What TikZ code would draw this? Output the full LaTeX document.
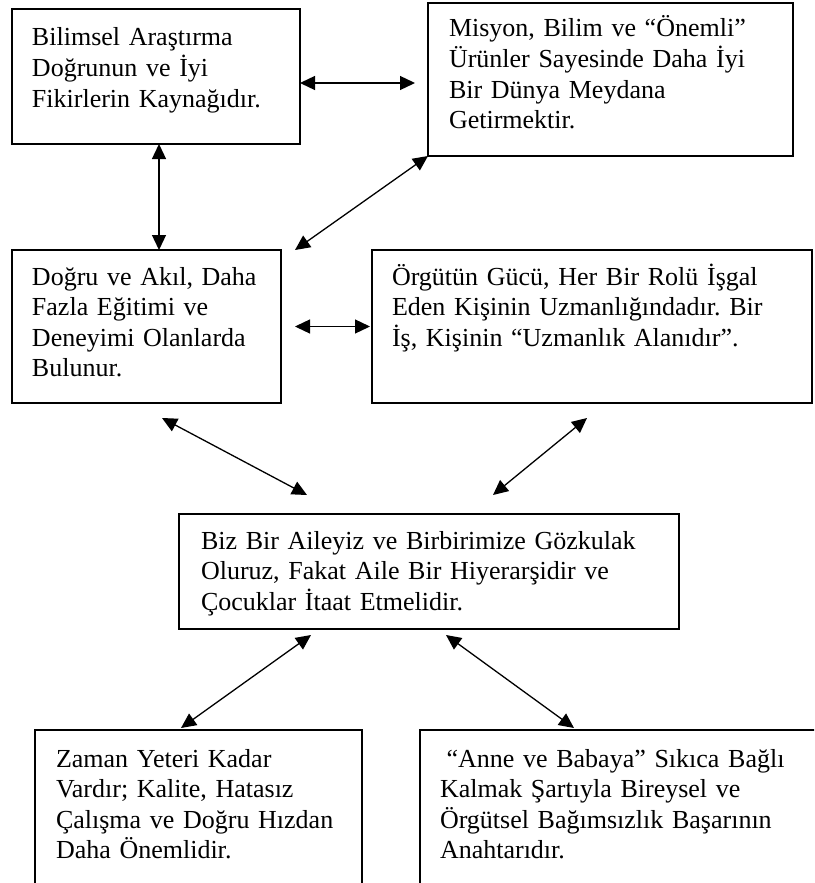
\documentclass[tikz,border=0pt]{standalone}
\usepackage{fontspec}
\setmainfont{Liberation Serif}
\usetikzlibrary{arrows.meta}

\begin{document}
\begin{tikzpicture}[
  x=0.5pt, y=-0.5pt,
  >={Triangle[length=7.5pt, width=7pt]},
  kutu/.style={
        draw,
        line width=0.85pt,
        anchor=north west,
        outer sep=0pt,
        inner ysep=0pt,
        inner xsep=10pt,
        align=left,
        font=\fontsize{13}{15.3}\selectfont\frenchspacing
  },
  ok/.style={
        line width=0.65pt,
        <->
  }
]

    \clip (0,0) rectangle (814,883);

    \node[kutu, text width=124pt, text height=18.5pt, text depth=49pt] (bilim) at (12,9)
        {Bilimsel Araştırma\\Doğrunun ve İyi\\Fikirlerin Kaynağıdır.};
    \node[kutu, inner xsep=10.5pt, text width=161.5pt, text height=17pt, text depth=59.5pt] (misyon) at (428,3)
        {Misyon, Bilim ve “Önemli”\\Ürünler Sayesinde Daha İyi\\Bir Dünya Meydana\\Getirmektir.};
    \node[kutu, text width=114.5pt, text height=17.5pt, text depth=59pt] (dogru) at (12,250)
        {Doğru ve Akıl, Daha\\Fazla Eğitimi ve\\Deneyimi Olanlarda\\Bulunur.};
    \node[kutu, text width=200pt, text height=17.5pt, text depth=59pt] (orgut) at (372,250)
        {Örgütün Gücü, Her Bir Rolü İşgal\\Eden Kişinin Uzmanlığındadır. Bir\\İş, Kişinin “Uzmanlık Alanıdır”.};
    \node[kutu, inner xsep=11pt, text width=228pt, text height=17.5pt, text depth=40pt] (aile) at (179,514)
        {Biz Bir Aileyiz ve Birbirimize Gözkulak\\Oluruz, Fakat Aile Bir Hiyerarşidir ve\\Çocuklar İtaat Etmelidir.};
    \node[kutu, inner xsep=10.5pt, text width=142.5pt, text height=18.5pt, text depth=66.5pt] (zaman) at (35,730)
        {Zaman Yeteri Kadar\\Vardır; Kalite, Hatasız\\Çalışma ve Doğru Hızdan\\Daha Önemlidir.};
    \node[kutu, text width=185pt, text height=18.5pt, text depth=66.5pt] (anne) at (420,730)
        {\hspace*{3.3pt}“Anne ve Babaya” Sıkıca Bağlı\\Kalmak Şartıyla Bireysel ve\\Örgütsel Bağımsızlık Başarının\\Anahtarıdır.};

    \coordinate (m1) at (415,83);
    \coordinate (d1) at (162,418);
    \coordinate (a1) at (307,495);
    \coordinate (o1) at (587,418);
    \coordinate (a2) at (493,495);
    \coordinate (a3) at (311,635);
    \coordinate (z1) at (181,728);
    \coordinate (a4) at (446,635);
    \coordinate (n1) at (574,728);

    \draw[ok] (bilim.east |- m1) -- (m1);
    \draw[ok] ([xshift=1.5pt]bilim.south) -- ([xshift=1.5pt]bilim.south |- dogru.north);
    \draw[ok] (misyon.south west) -- ([xshift=7pt]dogru.north east);
    \draw[ok] ([xshift=7pt]dogru.east) -- ([xshift=-1pt]orgut.west);
    \draw[ok] (d1) -- (a1);
    \draw[ok] (o1) -- (a2);
    \draw[ok] (a3) -- (z1);
    \draw[ok] (a4) -- (n1);
\end{tikzpicture}
\end{document}
